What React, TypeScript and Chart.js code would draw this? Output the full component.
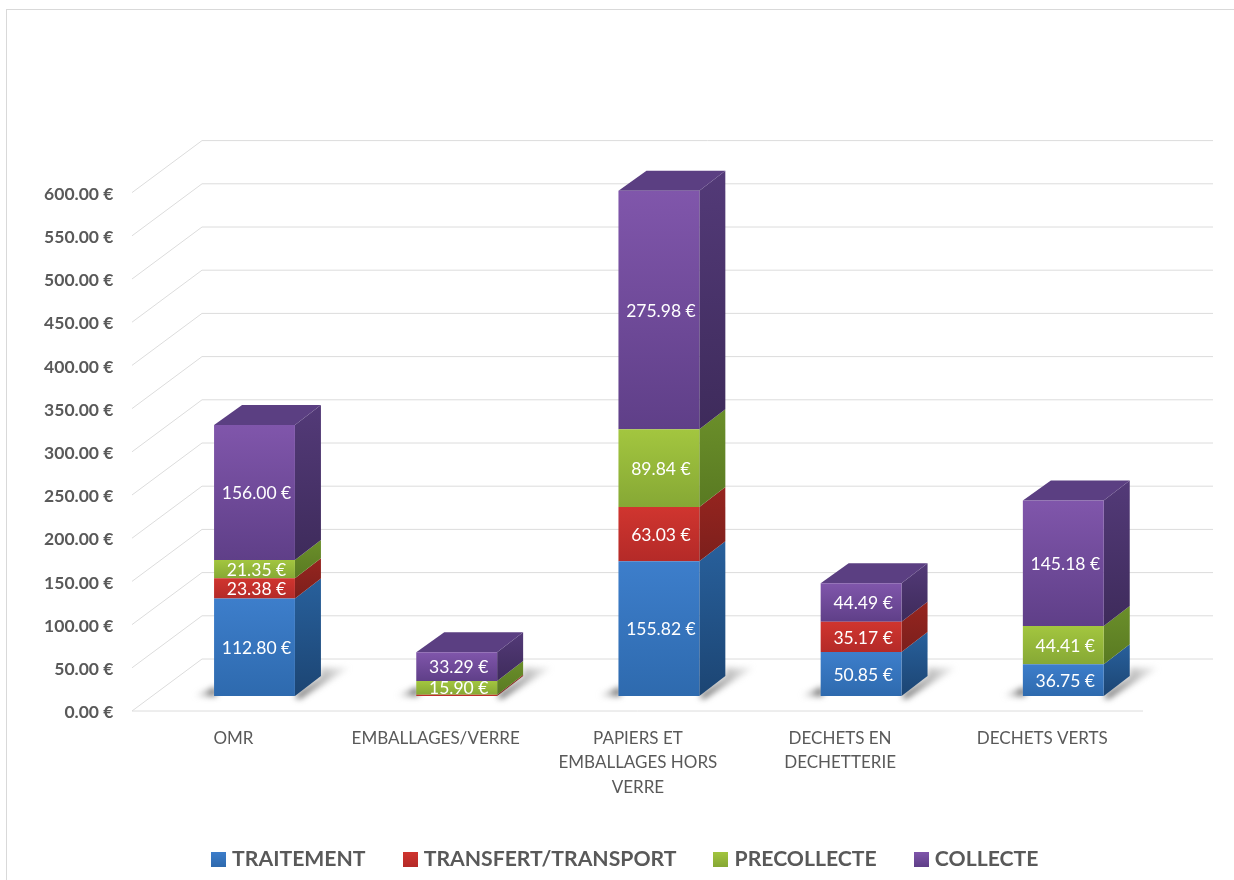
import React, { useEffect, useRef } from "react";
import { Chart, registerables } from "chart.js";

Chart.register(...registerables);

const categories = [
  "OMR",
  "EMBALLAGES/VERRE",
  ["PAPIERS ET", "EMBALLAGES HORS", "VERRE"],
  ["DECHETS EN", "DECHETTERIE"],
  "DECHETS VERTS",
];
const traitement = [112.8, 0, 155.82, 50.85, 36.75];
const transfert = [23.38, 1.5, 63.03, 35.17, 0];
const precollecte = [21.35, 15.9, 89.84, 0, 44.41];
const collecte = [156.0, 33.29, 275.98, 44.49, 145.18];
const seriesNames = ["TRAITEMENT", "TRANSFERT/TRANSPORT", "PRECOLLECTE", "COLLECTE"];
const frontTop = ["#3d7ecb", "#d0352f", "#a3c63f", "#8056ab"];
const frontBottom = ["#2e6aae", "#b42a28", "#86a835", "#5f3f88"];
const sideTop = ["#28609c", "#96251f", "#6b8f2a", "#533a78"];
const sideBottom = ["#1c4573", "#7c1f1c", "#597a22", "#3e2b5b"];
const topColor = "#5b3f82";
const gridColor = "#dcdcdc";
const textColor = "#595959";

const DX = 26;
const DY = -20;
const FRONT_SHIFT = 15;
const BACK_SHIFT = -37;
const LEGEND_PADDING = 41.5;

const allSeries = [traitement, transfert, precollecte, collecte];

function stackBounds(di: number, i: number) {
  let lo = 0;
  for (let k = 0; k < di; k++) lo += allSeries[k][i];
  return [lo, lo + allSeries[di][i]];
}

function legendSwatch(di: number) {
  const c = document.createElement("canvas");
  c.width = 15;
  c.height = 15;
  const x = c.getContext("2d")!;
  const g = x.createLinearGradient(0, 0, 0, 15);
  g.addColorStop(0, frontTop[di]);
  g.addColorStop(1, frontBottom[di]);
  x.fillStyle = g;
  x.fillRect(0, 0, 15, 15);
  return c;
}

const scenePlugin = {
  id: "scene",
  afterLayout(chart: any) {
    const lg = chart.legend;
    if (lg && lg.lineWidths) {
      lg.left = 2 * 215.5 - LEGEND_PADDING - lg.right + lg.lineWidths[0];
    }
  },
  beforeDatasetsDraw(chart: any) {
    const { ctx, scales } = chart;
    const y = scales.y;
    const backLeft = 202;
    const frontLeft = 132;
    ctx.save();
    ctx.strokeStyle = gridColor;
    ctx.lineWidth = 1;
    y.ticks.forEach((t: any) => {
      const p = y.getPixelForValue(t.value);
      ctx.beginPath();
      ctx.moveTo(frontLeft, p + FRONT_SHIFT);
      ctx.lineTo(backLeft, p + BACK_SHIFT);
      ctx.lineTo(1213, p + BACK_SHIFT);
      ctx.stroke();
    });
    const zero = y.getPixelForValue(0);
    ctx.beginPath();
    ctx.moveTo(frontLeft, zero + FRONT_SHIFT);
    ctx.lineTo(1143, zero + FRONT_SHIFT);
    ctx.stroke();

    const meta0 = chart.getDatasetMeta(0);
    meta0.data.forEach((bar: any) => {
      const l = bar.x - bar.width / 2;
      const r = bar.x + bar.width / 2;
      ctx.save();
      ctx.filter = "blur(3px)";
      let g = ctx.createLinearGradient(r, zero, r + DX + 26, zero - 28);
      g.addColorStop(0, "rgba(60,60,60,0.9)");
      g.addColorStop(1, "rgba(160,160,160,0.2)");
      ctx.fillStyle = g;
      ctx.beginPath();
      ctx.moveTo(r, zero);
      ctx.lineTo(r + DX, zero + DY);
      ctx.lineTo(r + DX, zero - 28);
      ctx.lineTo(r + DX + 28, zero - 28);
      ctx.lineTo(r + 4, zero + 3);
      ctx.closePath();
      ctx.fill();
      g = ctx.createLinearGradient(l - 20, zero, l, zero);
      g.addColorStop(0, "rgba(150,150,150,0.1)");
      g.addColorStop(1, "rgba(70,70,70,0.9)");
      ctx.fillStyle = g;
      ctx.beginPath();
      ctx.moveTo(l - 20, zero);
      ctx.lineTo(l + 2, zero);
      ctx.lineTo(l + 2, zero - 9);
      ctx.closePath();
      ctx.fill();
      ctx.restore();
    });

    chart.data.datasets.forEach((_: any, di: number) => {
      const meta = chart.getDatasetMeta(di);
      meta.data.forEach((bar: any, i: number) => {
        if (allSeries[di][i] <= 0) return;
        const r = bar.x + bar.width / 2;
        const [lo, hi] = stackBounds(di, i);
        const b = y.getPixelForValue(lo);
        const t = y.getPixelForValue(hi);
        const g = ctx.createLinearGradient(0, t + DY, 0, b);
        g.addColorStop(0, sideTop[di]);
        g.addColorStop(1, sideBottom[di]);
        ctx.fillStyle = g;
        ctx.beginPath();
        ctx.moveTo(r, t);
        ctx.lineTo(r + DX, t + DY);
        ctx.lineTo(r + DX, b + DY);
        ctx.lineTo(r, b);
        ctx.closePath();
        ctx.fill();
      });
    });
    const last = chart.getDatasetMeta(allSeries.length - 1);
    last.data.forEach((bar: any, i: number) => {
      const [, hi] = stackBounds(allSeries.length - 1, i);
      const t = y.getPixelForValue(hi);
      const l = bar.x - bar.width / 2;
      const r = bar.x + bar.width / 2;
      ctx.fillStyle = topColor;
      ctx.beginPath();
      ctx.moveTo(l, t);
      ctx.lineTo(l + DX + 2, t + DY);
      ctx.lineTo(r + DX, t + DY);
      ctx.lineTo(r, t);
      ctx.closePath();
      ctx.fill();
    });
    ctx.restore();
  },
  afterDatasetsDraw(chart: any) {
    const { ctx } = chart;
    ctx.save();
    ctx.fillStyle = "#ffffff";
    ctx.font = "17.5px Lato";
    ctx.textAlign = "center";
    ctx.textBaseline = "middle";
    chart.data.datasets.forEach((ds: any, di: number) => {
      const meta = chart.getDatasetMeta(di);
      meta.data.forEach((bar: any, i: number) => {
        const v = ds.data[i];
        if (v < 5) return;
        ctx.fillText(v.toFixed(2) + " €", bar.x + 2, (bar.y + bar.base) / 2 + 1);
      });
    });
    ctx.restore();
  },
};

export default function App() {
  const ref = useRef<HTMLCanvasElement>(null);
  useEffect(() => {
    const canvas = ref.current!;
    const chart = new Chart(canvas, {
      type: "bar",
      data: {
        labels: categories as any,
        datasets: allSeries.map((values, di) => ({
          label: seriesNames[di],
          data: values,
          backgroundColor: (c: any) => {
            const sc = c.chart.scales?.y;
            if (!sc || c.type !== "data") return frontTop[di];
            const [lo, hi] = stackBounds(di, c.dataIndex);
            const g = c.chart.ctx.createLinearGradient(
              0,
              sc.getPixelForValue(hi),
              0,
              sc.getPixelForValue(lo)
            );
            g.addColorStop(0, frontTop[di]);
            g.addColorStop(1, frontBottom[di]);
            return g;
          },
          borderWidth: 0,
          barPercentage: 0.4,
          categoryPercentage: 1,
          stack: "s",
        })),
      },
      options: {
        responsive: false,
        animation: false,
        layout: { padding: { top: 177.6, left: 0, right: 69.6, bottom: 0 } },
        scales: {
          x: {
            stacked: true,
            grid: { display: false },
            border: { display: false },
            afterFit: (s: any) => {
              s.height = 111.3;
            },
            ticks: {
              color: textColor,
              font: { family: "Lato", size: 17, lineHeight: 1.44 },
              padding: 22,
              labelOffset: -21,
              autoSkip: false,
              maxRotation: 0,
              minRotation: 0,
            },
          },
          y: {
            stacked: true,
            min: 0,
            max: 600,
            grid: { display: false, drawTicks: false },
            border: { display: false },
            afterFit: (s: any) => {
              s.width = 153.4;
            },
            ticks: {
              stepSize: 50,
              color: textColor,
              font: { family: "Lato", size: 17.5, weight: "bold" },
              padding: 40,
              labelOffset: FRONT_SHIFT + 1.5,
              callback: (v: any) => Number(v).toFixed(2) + " €",
            },
          },
        },
        plugins: {
          tooltip: { enabled: false },
          legend: {
            position: "bottom",
            labels: {
              color: textColor,
              font: { family: "Lato", size: 21.2, weight: "bold" },
              usePointStyle: true,
              boxWidth: 6,
              boxHeight: 6,
              padding: LEGEND_PADDING,
              generateLabels: () =>
                seriesNames.map((n, i) => ({
                  text: n,
                  fillStyle: frontTop[i],
                  strokeStyle: frontTop[i],
                  lineWidth: 0,
                  pointStyle: legendSwatch(i),
                  datasetIndex: i,
                  fontColor: textColor,
                })),
            },
          },
        },
      } as any,
      plugins: [scenePlugin as any],
    });
    return () => chart.destroy();
  }, []);
  return (
    <div style={{ position: "absolute", left: 0, top: 0, width: 1234, height: 880, background: "#fff", overflow: "hidden" }}>
      <canvas ref={ref} width={1234} height={880} style={{ display: "block" }} />
      <div
        style={{
          position: "absolute",
          left: 6,
          top: 9,
          width: 1240,
          height: 890,
          border: "1px solid #d9d9d9",
          pointerEvents: "none",
        }}
      />
    </div>
  );
}
